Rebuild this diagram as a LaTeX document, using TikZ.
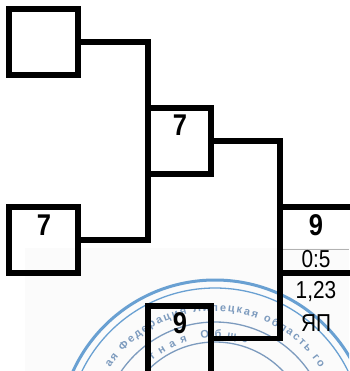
\documentclass[tikz,border=0pt]{standalone}
\usepackage{fontspec}
\setmainfont{Liberation Sans}
\usetikzlibrary{decorations.text}
\definecolor{stampblue}{RGB}{105,160,210}
\definecolor{stampink}{RGB}{125,155,190}
\tikzset{x=1pt,y=-1pt,
 heavy/.style={draw=black,line width=5.6pt,line join=miter,inner sep=0pt},
 link/.style={draw=black,line width=5.6pt,line join=miter},
 seedbold/.style={font=\bfseries\fontsize{30}{30}\selectfont,inner sep=0pt,anchor=base},
 infolabel/.style={font=\fontsize{24.5}{24.5}\selectfont,inner sep=0pt,anchor=base},
 ring/.style={draw=stampblue,line width=1.3pt}}
\newcommand{\narrowtxt}[1]{\scalebox{.85}[1]{#1}}
\begin{document}
\begin{tikzpicture}
\useasboundingbox (0,0) rectangle (349,371);
\fill[white] (0,0) rectangle (349,371);
\fill[black!1.5] (25,248) rectangle (349,371);
\begin{scope}
\clip (0,0) rectangle (349,371);
\coordinate (stampc) at (215,436);
\draw[ring,line width=3pt] (stampc) circle[radius=156];
\draw[ring] (stampc) circle[radius=148];
\draw[ring,draw=stampink] (stampc) circle[radius=114];
\draw[ring,draw=stampink] (stampc) circle[radius=94];
\path[decorate,decoration={text along path,text align={fit to path},
  text={|\bfseries\fontsize{11}{11}\selectfont\color{stampink}|ая Федерация Липецкая область го}}]
  (stampc) ++(-147:125) arc[start angle=-147,end angle=-33,radius=125];
\path[decorate,decoration={text along path,text align={fit to path},
  text={|\bfseries\fontsize{11}{11}\selectfont\color{stampink}|тная Обще}}]
  (stampc) ++(-130:98) arc[start angle=-130,end angle=-71,radius=98];
\end{scope}
\node[heavy,minimum width=69pt,minimum height=66pt] (a) at (43.5,42) {};
\node[heavy,minimum width=69pt,minimum height=66pt] (c) at (43.5,240) {};
\node[heavy,minimum width=63.5pt,minimum height=66pt] (b) at (179.5,141) {};
\coordinate (ajoin) at (147.8,42);
\coordinate (cjoin) at (147.8,240);
\coordinate (bjoin) at (280.2,141);
\coordinate (djoin) at (280.2,338.5);
\coordinate (etop) at (352,207);
\coordinate (ebot) at (352,273);
\coordinate (etopl) at (280.2,207);
\coordinate (ebotl) at (280.2,273);
\coordinate (dtl) at (147.8,306);
\coordinate (dtr) at (211,306);
\coordinate (dbl) at (147.8,375);
\coordinate (dbr) at (211,375);
\draw[link] (a.east) -- (ajoin) -- (cjoin) -- (c.east);
\draw[link] (b.east) -- (bjoin) -- (djoin) -- (dtr |- djoin);
\draw[link] (etopl) -- (etop);
\draw[link] (ebotl) -- (ebot);
\draw[link] (dbl) -- (dtl) -- (dtr) -- (dbr);
\draw[black!30,line width=.7pt] (283,249) -- (349,249);
\node[seedbold] (t1) at (180,136) {\narrowtxt{7}};
\node[seedbold] (t2) at (44,235) {\narrowtxt{7}};
\node[seedbold] (t3) at (316,235) {\narrowtxt{9}};
\node[seedbold] (t4) at (180,333) {\narrowtxt{9}};
\node[infolabel] (t5) at (316,267) {\narrowtxt{0:5}};
\node[infolabel] (t6) at (316,298) {\narrowtxt{1,23}};
\node[infolabel] (t7) at (316,331) {\narrowtxt{ЯП}};
\end{tikzpicture}
\end{document}
